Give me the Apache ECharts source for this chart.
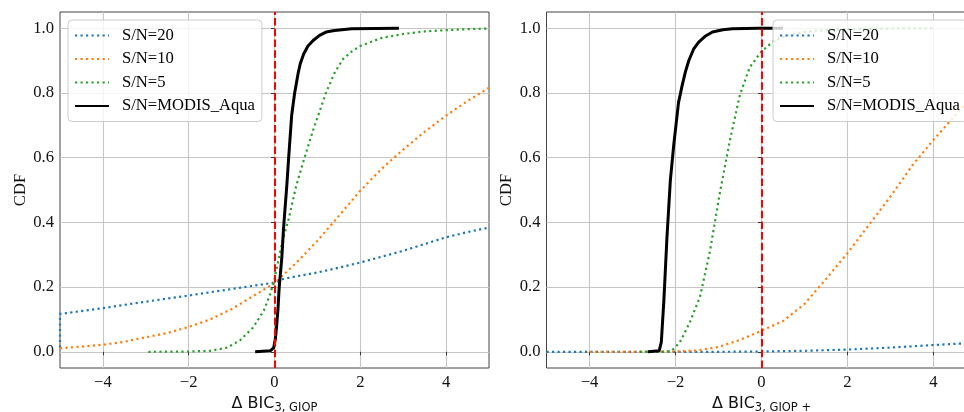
<!DOCTYPE html>
<html>
<head>
<meta charset="utf-8">
<script src="https://cdn.jsdelivr.net/npm/echarts@6/dist/echarts.min.js"></script>
<style>
  html, body { margin: 0; padding: 0; background: #ffffff; }
  #chart { width: 964px; height: 412px; }
</style>
</head>
<body>
<div id="chart"></div>
<script>
// Series names shared by both panels
const seriesNames = ['S/N=20', 'S/N=10', 'S/N=5', 'S/N=MODIS_Aqua'];

// Tick positions
const xTicks = [-4, -2, 0, 2, 4];
const yTicks = [0, 0.2, 0.4, 0.6, 0.8, 1.0];

// Reference threshold (ΔBIC = 0)
const refLine = 0;

// Left panel: CDF of ΔBIC_{3,GIOP}, points as [ΔBIC, CDF]
const leftSN20 = [[-5, 0.013], [-5, 0.117], [-4, 0.135], [-3, 0.155], [-2, 0.174], [-1, 0.194],
  [0, 0.214], [0.1, 0.22], [0.2, 0.225], [0.5, 0.233], [1, 0.245], [1.5, 0.26], [2, 0.276],
  [2.5, 0.294], [3, 0.312], [3.5, 0.333], [4, 0.354], [4.5, 0.37], [5, 0.384]];
const leftSN10 = [[-5, 0.011], [-4.5, 0.016], [-4, 0.022], [-3.5, 0.031], [-3, 0.045], [-2.5, 0.058],
  [-2, 0.077], [-1.5, 0.1], [-1, 0.132], [-0.5, 0.172], [0, 0.212], [0.5, 0.274], [1, 0.343],
  [1.5, 0.42], [2, 0.498], [2.5, 0.566], [3, 0.625], [3.5, 0.68], [4, 0.73], [4.5, 0.775], [5, 0.816]];
const leftSN5 = [[-2.94, 0], [-2, 0.001], [-1.5, 0.003], [-1.1, 0.013], [-0.8, 0.036], [-0.5, 0.075],
  [-0.25, 0.127], [-0.1, 0.178], [0, 0.225], [0.1, 0.29], [0.2, 0.35], [0.33, 0.41], [0.5, 0.51],
  [0.7, 0.6], [0.9, 0.685], [1.2, 0.8], [1.4, 0.862], [1.6, 0.905], [1.8, 0.928], [2, 0.945],
  [2.5, 0.97], [3, 0.982], [3.5, 0.99], [4, 0.994], [4.5, 0.997], [5, 0.999]];
const leftModis = [[-0.45, 0], [-0.1, 0.003], [-0.02, 0.012], [0.02, 0.04], [0.05, 0.08], [0.08, 0.13],
  [0.11, 0.2], [0.17, 0.29], [0.21, 0.38], [0.25, 0.45], [0.29, 0.52], [0.33, 0.6], [0.4, 0.73],
  [0.47, 0.8], [0.55, 0.86], [0.6, 0.89], [0.68, 0.92], [0.78, 0.945], [0.9, 0.962], [1.05, 0.978],
  [1.2, 0.988], [1.4, 0.993], [1.8, 0.998], [2.9, 1.0]];

// Right panel: CDF of ΔBIC_{3,GIOP+}
const rightSN20 = [[-5, 0], [-4, 0], [-3, 0], [-2, 0], [-1, 0], [0, 0.001], [1, 0.003], [2, 0.007],
  [3, 0.013], [4, 0.021], [4.7, 0.026], [5, 0.029]];
const rightSN10 = [[-4, 0], [-3, 0], [-2, 0.001], [-1.5, 0.004], [-1, 0.015], [-0.5, 0.037], [0, 0.065],
  [0.5, 0.095], [1, 0.148], [1.5, 0.225], [2, 0.305], [2.5, 0.392], [3, 0.48], [3.5, 0.575],
  [4, 0.655], [4.5, 0.73], [5, 0.8]];
const rightSN5 = [[-2.83, 0], [-2.3, 0], [-2.09, 0.003], [-1.9, 0.029], [-1.67, 0.09], [-1.43, 0.17],
  [-1.2, 0.31], [-0.97, 0.49], [-0.74, 0.65], [-0.5, 0.795], [-0.27, 0.88], [0, 0.928], [0.3, 0.962],
  [0.7, 0.982], [1.2, 0.992], [2, 0.997], [3, 0.999], [4, 1.0]];
const rightModis = [[-2.64, 0], [-2.38, 0.003], [-2.33, 0.03], [-2.27, 0.16], [-2.2, 0.35], [-2.12, 0.53],
  [-2.04, 0.64], [-1.93, 0.77], [-1.85, 0.82], [-1.77, 0.865], [-1.69, 0.9], [-1.58, 0.935],
  [-1.46, 0.957], [-1.3, 0.976], [-1.14, 0.988], [-0.9, 0.995], [-0.68, 0.998], [-0.06, 1.0], [0.5, 1.0]];

const colors = ['#1f77b4', '#ff7f0e', '#2ca02c', '#000000'];
const serif = 'Liberation Serif, Times New Roman, serif';
const sans = 'DejaVu Sans, sans-serif';
const labelSize = 16.6;

const dotted = { width: 2.2, type: [2.2, 3.3], cap: 'butt' };
const solid = { width: 3, type: 'solid', cap: 'butt', join: 'round' };

function makeSeries(data, idx, panel) {
  const style = idx < 3 ? dotted : solid;
  return {
    name: seriesNames[idx],
    type: 'line',
    xAxisIndex: panel,
    yAxisIndex: panel,
    data: data,
    symbol: 'none',
    showSymbol: false,
    smooth: false,
    animation: false,
    z: idx < 3 ? 2 : 3,
    lineStyle: Object.assign({ color: colors[idx] }, style),
    itemStyle: { color: colors[idx] }
  };
}

function redLine(panel) {
  return {
    type: 'line',
    xAxisIndex: panel,
    yAxisIndex: panel,
    data: [],
    silent: true,
    animation: false,
    z: 4,
    markLine: {
      symbol: 'none',
      silent: true,
      animation: false,
      label: { show: false },
      lineStyle: { color: '#ff0000', width: 2, type: [7.5, 3.2], cap: 'butt' },
      data: [{ xAxis: refLine }]
    }
  };
}

function xAxisDef(grid, sub) {
  return {
    type: 'value',
    gridIndex: grid,
    min: -5,
    max: 5,
    name: '{d|Δ BIC}{s|' + sub + '}',
    nameLocation: 'middle',
    nameGap: 22,
    nameTextStyle: {
      rich: {
        d: { fontFamily: sans, fontSize: 16, color: '#111', lineHeight: 20 },
        s: { fontFamily: sans, fontSize: 11.5, color: '#111', lineHeight: 10, verticalAlign: 'bottom' }
      }
    },
    axisLine: { show: false },
    axisTick: { show: true, customValues: xTicks, length: 3.5, inside: false,
      lineStyle: { color: '#333', width: 1 } },
    axisLabel: { customValues: xTicks, margin: 6, fontFamily: serif, fontSize: labelSize, color: '#111',
      formatter: v => String(v).replace('-', '\u2212') },
    splitLine: { show: true, lineStyle: { color: '#c6c6c6', width: 1.1 } }
  };
}

function yAxisDef(grid) {
  return {
    type: 'value',
    gridIndex: grid,
    min: -0.05,
    max: 1.05,
    name: 'CDF',
    nameLocation: 'middle',
    nameGap: 31,
    nameTextStyle: { fontFamily: serif, fontSize: labelSize, color: '#111' },
    axisLine: { show: false },
    axisTick: { show: true, customValues: yTicks, length: 3.5, inside: false,
      lineStyle: { color: '#333', width: 1 } },
    axisLabel: { customValues: yTicks, margin: 6, fontFamily: serif, fontSize: labelSize, color: '#111',
      formatter: v => v.toFixed(1) },
    splitLine: { show: true, lineStyle: { color: '#c6c6c6', width: 1.1 } }
  };
}

function legendDef(left) {
  return {
    data: seriesNames,
    orient: 'vertical',
    left: left,
    top: 20,
    itemWidth: 34,
    itemHeight: 18,
    itemGap: 6.5,
    padding: [7, 7, 7, 6],
    selectedMode: false,
    backgroundColor: 'rgba(255,255,255,0.8)',
    borderColor: '#cccccc',
    borderWidth: 1,
    borderRadius: 4,
    itemStyle: { opacity: 0 },
    textStyle: { fontFamily: serif, fontSize: labelSize, color: '#000', padding: [0, 0, 0, 8] }
  };
}

const chart = echarts.init(document.getElementById('chart'), null, { renderer: 'canvas' });
chart.setOption({
  animation: false,
  backgroundColor: '#ffffff',
  grid: [
    { left: 60, top: 12, width: 429, height: 356, show: true, borderColor: '#444', borderWidth: 1,
      backgroundColor: 'transparent', containLabel: false, outerBoundsMode: 'none' },
    { left: 546.5, top: 12, width: 430, height: 356, show: true, borderColor: '#444', borderWidth: 1,
      backgroundColor: 'transparent', containLabel: false, outerBoundsMode: 'none' }
  ],
  xAxis: [xAxisDef(0, '3, GIOP'), xAxisDef(1, '3, GIOP +')],
  yAxis: [yAxisDef(0), yAxisDef(1)],
  legend: [legendDef(68), legendDef(773)],
  series: [
    makeSeries(leftSN20, 0, 0),
    makeSeries(leftSN10, 1, 0),
    makeSeries(leftSN5, 2, 0),
    makeSeries(leftModis, 3, 0),
    redLine(0),
    makeSeries(rightSN20, 0, 1),
    makeSeries(rightSN10, 1, 1),
    makeSeries(rightSN5, 2, 1),
    makeSeries(rightModis, 3, 1),
    redLine(1)
  ]
});
</script>
</body>
</html>
